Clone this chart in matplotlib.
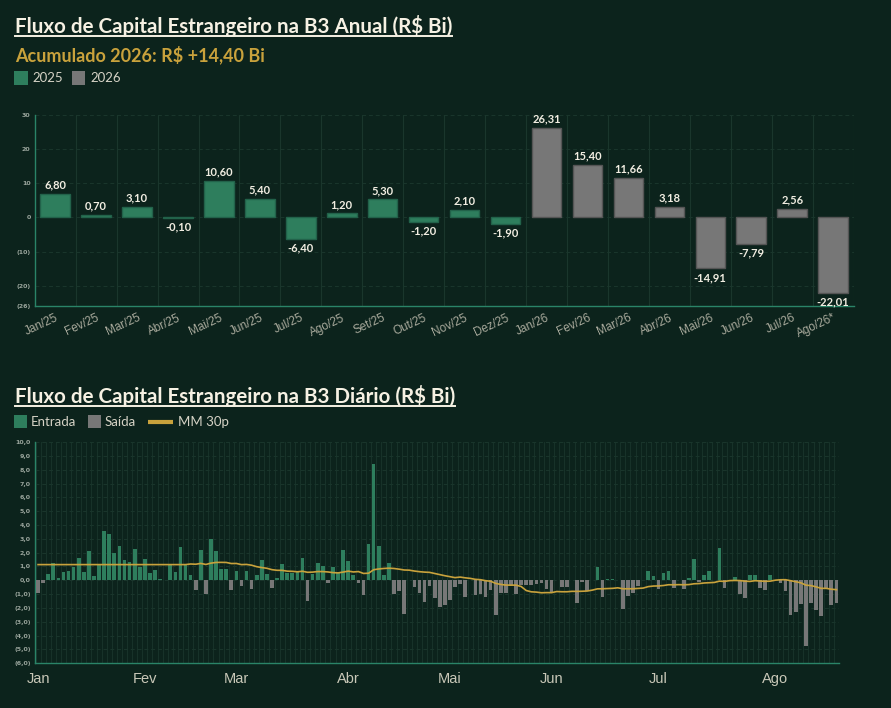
import numpy as np
import pandas as pd
import matplotlib
matplotlib.use('Agg')
from matplotlib import pyplot as plt
from matplotlib.lines import Line2D
from matplotlib.patches import Rectangle

# Dados mensais (R$ Bi)
meses = ['Jan/25', 'Fev/25', 'Mar/25', 'Abr/25', 'Mai/25', 'Jun/25', 'Jul/25', 'Ago/25',
         'Set/25', 'Out/25', 'Nov/25', 'Dez/25', 'Jan/26', 'Fev/26', 'Mar/26', 'Abr/26',
         'Mai/26', 'Jun/26', 'Jul/26', 'Ago/26*']
fluxo_mensal = [6.80, 0.70, 3.10, -0.10, 10.60, 5.40, -6.40, 1.20, 5.30, -1.20, 2.10, -1.90,
                26.31, 15.40, 11.66, 3.18, -14.91, -7.79, 2.56, -22.01]
yticks_mensal = [30, 20, 10, 0, -10, -20, -26]
ylabels_mensal = ['30', '20', '10', '0', '(10)', '(20)', '(26)']

# Dados diarios 2026 (R$ Bi)
fluxo_diario = [-0.92, -0.20, 0.46, 1.23, 0.15, 0.60, 0.65, 0.97, 1.62, 0.58,
                2.10, 0.29, 1.10, 3.55, 3.38, 1.96, 2.46, 1.50, 1.33, 2.25,
                0.97, 1.57, 0.50, 0.72, 0.07, 0.02, 1.10, 0.58, 2.42, 1.10,
                0.39, -0.70, 2.20, -1.00, 3.00, 2.10, 0.82, 0.80, -0.70, 0.70,
                -0.39, 0.68, -0.60, 0.36, 1.45, 0.46, -0.58, 0.15, 1.16, 0.56,
                0.56, 0.60, 1.64, -1.50, 0.46, 1.23, 1.00, -0.20, 0.97, 0.50,
                2.17, 1.40, 0.36, -0.17, -1.06, 2.60, 8.38, 2.46, 0.39, 1.26,
                -1.00, -0.78, -2.42, 0.00, -0.46, -0.90, -1.55, -0.41, -1.30, -1.93,
                -1.75, -1.42, -0.47, -0.29, -1.17, 0.03, -1.09, -0.97, -1.18, -0.72,
                -2.50, -0.91, -0.91, -0.38, -1.02, -0.35, -0.35, -0.34, -0.29, -0.18,
                -0.62, -0.85, 0.00, -0.48, -0.48, 0.00, -1.62, -0.15, -0.77, 0.00,
                0.98, -1.22, 0.08, 0.08, 0.00, -2.10, -1.10, -0.88, -0.42, 0.00,
                0.66, 0.29, -0.62, 0.53, 0.68, -0.54, 0.00, -0.63, 0.18, 1.51,
                -0.15, 0.42, 0.65, 0.05, 2.32, -0.55, 0.05, 0.24, -1.02, -1.27,
                0.41, 0.36, -0.55, -0.68, 0.40, 0.00, -0.20, -0.77, -2.50, -2.30,
                -1.69, -4.76, -1.66, -2.13, -2.56, -0.60, -1.81, -1.63]
meses_diario = ['Jan', 'Fev', 'Mar', 'Abr', 'Mai', 'Jun', 'Jul', 'Ago']
inicio_mes = [0, 21, 39, 61, 81, 101, 122, 145]
yticks_diario = list(range(-6, 11))

#Cores
bg = '#0c231c'
verde = '#2e7e5d'
verde_borda = '#22624a'
cinza = '#777777'
cinza_borda = '#555555'
dourado = '#c9a23c'
grade = '#1a362c'
eixo = '#2a8468'
creme = '#f6f1e3'
texto_leg = '#d6d3c6'

fonte = 'Lato'
W = 891.0
H = 708.0

def fmt(v):
    return f'{v:.2f}'.replace('.', ',')

def fmt_eixo(v):
    s = f'{abs(v):.1f}'.replace('.', ',')
    return f'({s})' if v < 0 else s

def fx(px):
    return px / W

def fy(py):
    return 1 - py / H

fig = plt.figure(figsize=(8.91, 7.08), dpi=100, facecolor=bg)

def estilo(ax):
    ax.set_facecolor(bg)
    for s in ['top', 'right']:
        ax.spines[s].set_visible(False)
    for s in ['left', 'bottom']:
        ax.spines[s].set_color(eixo)
        ax.spines[s].set_linewidth(1.0)
    ax.tick_params(axis='both', which='both', length=0)
    ax.set_axisbelow(True)

#Grafico 1 - mensal
ax1 = fig.add_axes([0.039, 0.5674, 0.919, 0.2702])
estilo(ax1)
x = np.arange(len(meses))
cores = [verde if m.endswith('/25') else cinza for m in meses]
bordas = [verde_borda if m.endswith('/25') else cinza_borda for m in meses]
ax1.bar(x, fluxo_mensal, width=0.72, color=cores, edgecolor=bordas, linewidth=1.0, zorder=3)
ax1.set_xlim(-0.5, len(meses) - 0.5)
ax1.set_ylim(-26, 30)
ax1.set_yticks(yticks_mensal)
ax1.set_yticklabels(ylabels_mensal, fontsize=4.5, color='#9aa59c', fontweight='bold')
ax1.set_xticks(x)
ax1.set_xticklabels(meses, rotation=25, ha='right', va='top', rotation_mode='anchor',
                    fontsize=8.5, color='#a9aa9c', family='Liberation Sans')
ax1.tick_params(axis='x', pad=4)
ax1.tick_params(axis='y', pad=3)
ax1.set_xticks(np.arange(len(meses) + 1) - 0.5, minor=True)
ax1.grid(axis='y', which='major', color=grade, linestyle=(0, (4, 3)), linewidth=0.7)
ax1.grid(axis='x', which='minor', color=grade, linestyle='-', linewidth=0.8)

for xi, v in zip(x, fluxo_mensal):
    ax1.annotate(fmt(v), (xi, v), xytext=(0, 2.5 if v >= 0 else -2.5), textcoords='offset points',
                 ha='center', va='bottom' if v >= 0 else 'top', fontsize=8, fontweight='bold',
                 color='#f2eee2', family=fonte, zorder=4)

#Grafico 2 - diario
ax2 = fig.add_axes([0.039, 0.0631, 0.9027, 0.3126])
estilo(ax2)
xd = np.arange(len(fluxo_diario))
serie = pd.Series(fluxo_diario)
mm30 = serie.rolling(30).mean().bfill()
cores_d = [verde if v >= 0 else cinza for v in fluxo_diario]
ax2.bar(xd, fluxo_diario, width=0.72, color=cores_d, linewidth=0, zorder=3)
ax2.plot(xd, mm30, color=dourado, linewidth=1.2, zorder=4)
ax2.set_xlim(-0.65, 157.52)
ax2.set_ylim(-6, 10)
ax2.set_yticks(yticks_diario)
ax2.set_yticklabels([fmt_eixo(v) for v in yticks_diario], fontsize=4.5, color='#9aa59c',
                    fontweight='bold')
ax2.set_xticks(inicio_mes)
ax2.set_xticklabels(meses_diario, fontsize=10.5, color='#c9c8b8', family='Liberation Sans')
ax2.tick_params(axis='x', pad=6)
ax2.tick_params(axis='y', pad=3)
ax2.set_xticks(np.arange(len(fluxo_diario) + 1) - 0.5, minor=True)
ax2.grid(axis='y', which='major', color=grade, linestyle=(0, (4, 3)), linewidth=0.7)
ax2.grid(axis='x', which='minor', color=grade, linestyle='-', linewidth=0.6)

#Titulos
t1 = fig.text(fx(15), fy(33), 'Fluxo de Capital Estrangeiro na B3 Anual (R$ Bi)', fontsize=14.8,
              fontweight='bold', color=creme, family=fonte, va='baseline', ha='left')
fig.text(fx(15), fy(61), 'Acumulado 2026: R$ +14,40 Bi', fontsize=13,
         fontweight='bold', color=dourado, family=fonte, va='baseline', ha='left')
t2 = fig.text(fx(15), fy(403), 'Fluxo de Capital Estrangeiro na B3 Diário (R$ Bi)', fontsize=14.8,
              fontweight='bold', color=creme, family=fonte, va='baseline', ha='left')

# sublinhado dos titulos
fig.canvas.draw()
for t, yb in [(t1, 33), (t2, 403)]:
    bb = t.get_window_extent().transformed(fig.transFigure.inverted())
    fig.add_artist(Line2D([bb.x0, bb.x1], [fy(yb + 3), fy(yb + 3)], transform=fig.transFigure,
                          color=creme, linewidth=1.4))

#Legendas (montadas a mao)
def quadrado(x0, yc, cor):
    fig.add_artist(Rectangle((fx(x0), fy(yc + 6.5)), 13 / W, 13 / H, transform=fig.transFigure,
                             facecolor=cor, edgecolor='none'))

def rotulo(x0, yc, s):
    fig.text(fx(x0), fy(yc), s, fontsize=9.5, color=texto_leg, family=fonte, va='center', ha='left')

quadrado(14.5, 78, verde)
rotulo(32, 78, '2025')
quadrado(72, 78, cinza)
rotulo(90, 78, '2026')

quadrado(14, 421.5, verde)
rotulo(31, 421.5, 'Entrada')
quadrado(88, 421.5, cinza)
rotulo(105, 421.5, 'Saída')
fig.add_artist(Line2D([fx(148), fx(173)], [fy(421.5), fy(421.5)], transform=fig.transFigure,
                      color=dourado, linewidth=3, solid_capstyle='butt'))
rotulo(178, 421.5, 'MM 30p')

plt.savefig('out.png', dpi=100, facecolor=bg)
